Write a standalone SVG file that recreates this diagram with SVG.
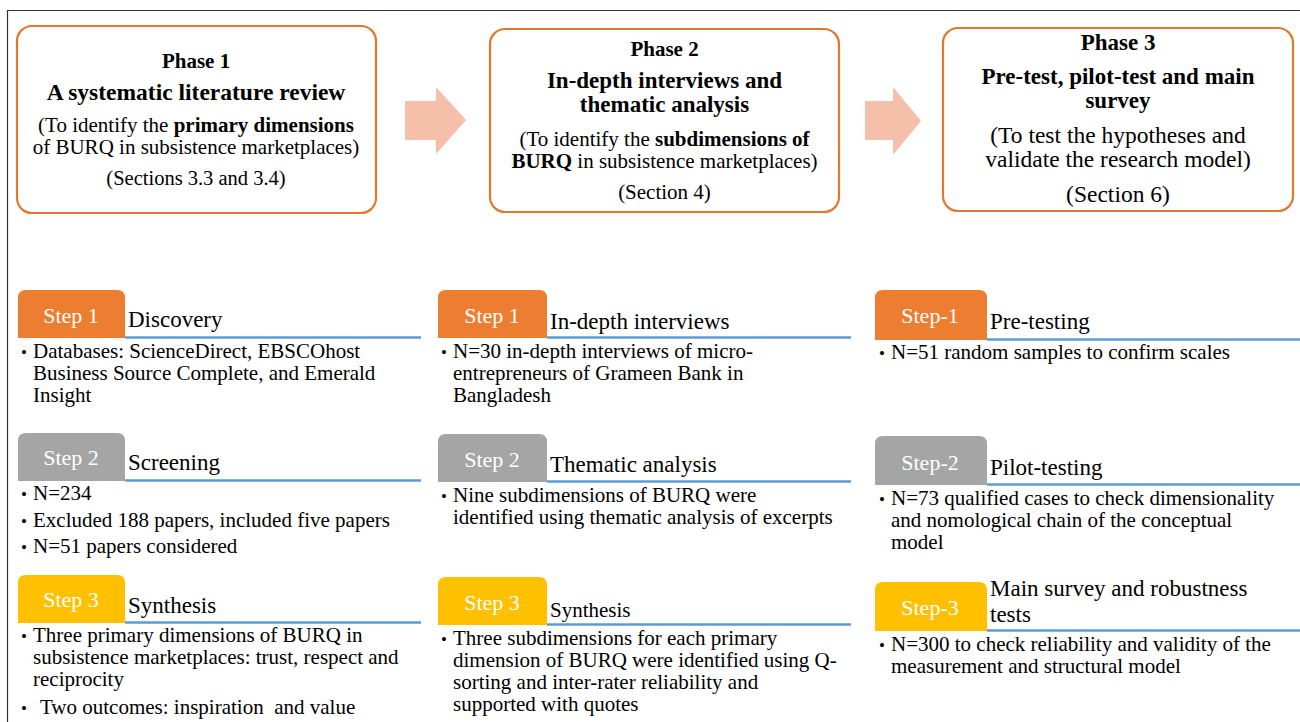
<svg xmlns="http://www.w3.org/2000/svg" width="1300" height="722" viewBox="0 0 1300 722">
<style>
text{font-family:"Liberation Serif","Times New Roman",serif;fill:#000}
.phase{fill:#fff;stroke:#E2782F;stroke-width:2.2}
.b{font-weight:bold}
.ph{font-size:21px;font-weight:bold;text-anchor:middle}
.tt{font-size:23px;font-weight:bold;text-anchor:middle}
.pd{font-size:21px;text-anchor:middle}
.stp{font-size:22px;fill:#fff;text-anchor:middle}
.hd{font-size:23px}
.bl{font-size:21px}
.dot{font-size:17px}
.rule{stroke:#5B9BD5;stroke-width:2.5}
.arr{fill:#F5BFA9}
</style>
<rect width="1300" height="722" fill="#fff"/>
<path d="M7.5,722 V10.5 H1300" fill="none" stroke="#333" stroke-width="1.2"/>

<g id="connectors">
<polygon class="arr" points="405,101 436,101 436,87 466,120 436,154 436,140 405,140"/>
<polygon class="arr" points="865,101 893,101 893,87 921,121 893,155 893,140 865,140"/>
</g>

<g id="phase1">
<rect class="phase" x="17" y="26" width="359" height="187" rx="15"/>
<text class="ph" x="196" y="68">Phase 1</text>
<text class="tt" x="196" y="100" style="font-size:23.5px">A systematic literature review</text>
<text class="pd" x="196" y="132">(To identify the <tspan class="b">primary dimensions</tspan></text>
<text class="pd" x="196" y="154">of BURQ in subsistence marketplaces)</text>
<text class="pd" x="196" y="185" style="font-size:20.5px">(Sections 3.3 and 3.4)</text>
</g>

<g id="phase2">
<rect class="phase" x="490" y="29" width="349" height="183" rx="15"/>
<text class="ph" x="664.5" y="56">Phase 2</text>
<text class="tt" x="664.5" y="88">In-depth interviews and</text>
<text class="tt" x="664.5" y="112">thematic analysis</text>
<text class="pd" x="664.5" y="146">(To identify the <tspan class="b">subdimensions of</tspan></text>
<text class="pd" x="664.5" y="168"><tspan class="b">BURQ</tspan> in subsistence marketplaces)</text>
<text class="pd" x="664.5" y="199">(Section 4)</text>
</g>

<g id="phase3">
<rect class="phase" x="943" y="28" width="350" height="183" rx="15"/>
<text class="ph" x="1118" y="50" style="font-size:23px">Phase 3</text>
<text class="tt" x="1118" y="84">Pre-test, pilot-test and main</text>
<text class="tt" x="1118" y="108">survey</text>
<text class="pd" x="1118" y="143" style="font-size:23.5px">(To test the hypotheses and</text>
<text class="pd" x="1118" y="167" style="font-size:23.5px">validate the research model)</text>
<text class="pd" x="1118" y="202" style="font-size:23.5px">(Section 6)</text>
</g>

<!-- Column 1 -->
<g id="c1s1">
<path d="M18,338 V298 Q18,290 26,290 H117 Q125,290 125,298 V338 Z" fill="#ED7D31"/>
<line class="rule" x1="125" y1="337.5" x2="421" y2="337.5"/>
<text class="stp" x="71" y="323">Step 1</text>
<text class="hd" x="128" y="327">Discovery</text>
<text class="dot" x="21" y="358">•</text>
<text class="bl" x="33" y="358">Databases: ScienceDirect, EBSCOhost</text>
<text class="bl" x="33" y="380">Business Source Complete, and Emerald</text>
<text class="bl" x="33" y="402">Insight</text>
</g>
<g id="c1s2">
<path d="M18,481 V441 Q18,433 26,433 H117 Q125,433 125,441 V481 Z" fill="#A5A5A5"/>
<line class="rule" x1="125" y1="480.5" x2="421" y2="480.5"/>
<text class="stp" x="71" y="465">Step 2</text>
<text class="hd" x="128" y="470">Screening</text>
<text class="dot" x="21" y="500">•</text>
<text class="bl" x="33" y="500">N=234</text>
<text class="dot" x="21" y="527">•</text>
<text class="bl" x="33" y="527">Excluded 188 papers, included five papers</text>
<text class="dot" x="21" y="553">•</text>
<text class="bl" x="33" y="553">N=51 papers considered</text>
</g>
<g id="c1s3">
<path d="M18,623 V583 Q18,575 26,575 H117 Q125,575 125,583 V623 Z" fill="#FFC000"/>
<line class="rule" x1="125" y1="622.5" x2="421" y2="622.5"/>
<text class="stp" x="71" y="607">Step 3</text>
<text class="hd" x="128" y="613">Synthesis</text>
<text class="dot" x="21" y="642">•</text>
<text class="bl" x="33" y="642">Three primary dimensions of BURQ in</text>
<text class="bl" x="33" y="664">subsistence marketplaces: trust, respect and</text>
<text class="bl" x="33" y="686">reciprocity</text>
<text class="dot" x="21" y="714">•</text>
<text class="bl" x="40" y="714" xml:space="preserve">Two outcomes: inspiration  and value</text>
</g>

<!-- Column 2 -->
<g id="c2s1">
<path d="M438,338 V298 Q438,290 446,290 H539 Q547,290 547,298 V338 Z" fill="#ED7D31"/>
<line class="rule" x1="547" y1="337.5" x2="851" y2="337.5"/>
<text class="stp" x="492" y="323">Step 1</text>
<text class="hd" x="550" y="329">In-depth interviews</text>
<text class="dot" x="441" y="358">•</text>
<text class="bl" x="453" y="358">N=30 in-depth interviews of micro-</text>
<text class="bl" x="453" y="380">entrepreneurs of Grameen Bank in</text>
<text class="bl" x="453" y="402">Bangladesh</text>
</g>
<g id="c2s2">
<path d="M438,482 V442 Q438,434 446,434 H539 Q547,434 547,442 V482 Z" fill="#A5A5A5"/>
<line class="rule" x1="547" y1="481.5" x2="851" y2="481.5"/>
<text class="stp" x="492" y="467">Step 2</text>
<text class="hd" x="550" y="472">Thematic analysis</text>
<text class="dot" x="441" y="502">•</text>
<text class="bl" x="453" y="502">Nine subdimensions of BURQ were</text>
<text class="bl" x="453" y="524">identified using thematic analysis of excerpts</text>
</g>
<g id="c2s3">
<path d="M438,625 V585 Q438,577 446,577 H539 Q547,577 547,585 V625 Z" fill="#FFC000"/>
<line class="rule" x1="547" y1="624.5" x2="851" y2="624.5"/>
<text class="stp" x="492" y="610">Step 3</text>
<text class="hd" x="550" y="617" style="font-size:21px">Synthesis</text>
<text class="dot" x="441" y="645">•</text>
<text class="bl" x="453" y="645">Three subdimensions for each primary</text>
<text class="bl" x="453" y="667">dimension of BURQ were identified using Q-</text>
<text class="bl" x="453" y="689">sorting and inter-rater reliability and</text>
<text class="bl" x="453" y="711">supported with quotes</text>
</g>

<!-- Column 3 -->
<g id="c3s1">
<path d="M875,340 V298 Q875,290 883,290 H979 Q987,290 987,298 V340 Z" fill="#ED7D31"/>
<line class="rule" x1="987" y1="339.5" x2="1300" y2="339.5"/>
<text class="stp" x="930" y="323">Step-1</text>
<text class="hd" x="990" y="329">Pre-testing</text>
<text class="dot" x="879" y="359">•</text>
<text class="bl" x="891" y="359">N=51 random samples to confirm scales</text>
</g>
<g id="c3s2">
<path d="M875,485 V444 Q875,436 883,436 H979 Q987,436 987,444 V485 Z" fill="#A5A5A5"/>
<line class="rule" x1="987" y1="484.5" x2="1300" y2="484.5"/>
<text class="stp" x="930" y="470">Step-2</text>
<text class="hd" x="990" y="475">Pilot-testing</text>
<text class="dot" x="879" y="505">•</text>
<text class="bl" x="891" y="505">N=73 qualified cases to check dimensionality</text>
<text class="bl" x="891" y="527">and nomological chain of the conceptual</text>
<text class="bl" x="891" y="549">model</text>
</g>
<g id="c3s3">
<path d="M875,631 V590 Q875,582 883,582 H979 Q987,582 987,590 V631 Z" fill="#FFC000"/>
<line class="rule" x1="987" y1="630.5" x2="1300" y2="630.5"/>
<text class="stp" x="930" y="615">Step-3</text>
<text class="hd" x="990" y="596">Main survey and robustness</text>
<text class="hd" x="990" y="622">tests</text>
<text class="dot" x="879" y="651">•</text>
<text class="bl" x="891" y="651">N=300 to check reliability and validity of the</text>
<text class="bl" x="891" y="673">measurement and structural model</text>
</g>
</svg>
